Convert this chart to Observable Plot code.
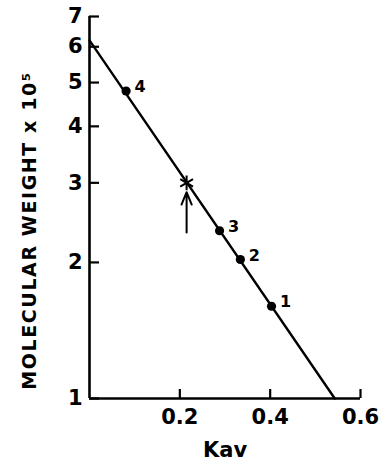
<!DOCTYPE html>
<html>
<head>
<meta charset="utf-8">
<script src="https://cdn.jsdelivr.net/npm/d3@7"></script>
<script src="https://cdn.jsdelivr.net/npm/@observablehq/plot@0.6"></script>
<style>
  html, body { margin: 0; padding: 0; background: #fff; }
  svg { display: block; }
</style>
</head>
<body>
<div id="chart"></div>
<script>
// Standards (numbered points)
const labels = ["1", "2", "3", "4"];
const kav = [0.403, 0.334, 0.288, 0.081];
const mw = [1.60, 2.03, 2.35, 4.79];

// Unknown (star) with arrow
const unknownKav = [0.215];
const unknownMW = [3.0];
const arrowFrom = [2.33];
const arrowTo = [2.86];

// Fitted line endpoints
const lineKav = [0, 0.543];
const lineMW = [6.2, 1];

// Ticks
const xTicks = [0.2, 0.4, 0.6];
const yTicks = [1, 2, 3, 4, 5, 6, 7];

const yTitle = "MOLECULAR WEIGHT x 10⁵";
const xTitle = "Kav";

const points = labels.map((l, i) => ({label: l, kav: kav[i], mw: mw[i]}));
const unknown = unknownKav.map((k, i) => ({kav: k, mw: unknownMW[i], from: arrowFrom[i], to: arrowTo[i]}));
const line = lineKav.map((k, i) => ({kav: k, mw: lineMW[i]}));

const font = "DejaVu Sans";

const chart = Plot.plot({
  width: 382,
  height: 463,
  marginLeft: 89,
  marginRight: 22,
  marginTop: 16,
  marginBottom: 65,
  style: {fontFamily: font, fontWeight: "bold", color: "#000", background: "#fff"},
  x: {domain: [0, 0.6]},
  y: {type: "log", domain: [1, 7]},
  marks: [
    // inward ticks
    Plot.axisY(yTicks, {tickSize: -10, text: null, strokeWidth: 2.2, label: null}),
    Plot.axisX(xTicks, {tickSize: -9, text: null, strokeWidth: 2.2, label: null}),
    // tick labels
    Plot.axisY(yTicks, {tickSize: 0, tickPadding: 7, fontSize: 21, fontWeight: "bold", tickFormat: d => String(d), label: null}),
    Plot.axisX(xTicks, {tickSize: 0, tickPadding: 11, fontSize: 21, fontWeight: "bold", tickFormat: d => d.toFixed(1), label: null}),
    // axis lines
    Plot.ruleX([0], {strokeWidth: 2.6}),
    Plot.ruleY([1], {strokeWidth: 2.6}),
    // fitted line
    Plot.line(line, {x: "kav", y: "mw", strokeWidth: 2.4}),
    // standards
    Plot.dot(points, {x: "kav", y: "mw", r: 4.6, fill: "#000"}),
    Plot.text(points, {x: "kav", y: "mw", text: "label", dx: 14, dy: -4, fontSize: 16, fontWeight: "bold", textAnchor: "middle"}),
    // unknown
    Plot.dot(unknown, {x: "kav", y: "mw", symbol: "asterisk", r: 7, stroke: "#000", strokeWidth: 2}),
    Plot.arrow(unknown, {x: "kav", y1: "from", y2: "to", strokeWidth: 2, headLength: 10, headAngle: 45}),
    // axis titles
    Plot.text([xTitle], {frameAnchor: "bottom", dy: 52, lineAnchor: "middle", fontSize: 21, fontWeight: "bold"}),
    Plot.text([yTitle], {frameAnchor: "left", dx: -60, dy: 23, rotate: -90, textAnchor: "middle", lineAnchor: "middle", fontSize: 19, fontWeight: "bold"})
  ]
});
// widen the letter spacing of the rotated y title
d3.select(chart).selectAll("text").filter(function() { return this.textContent === yTitle; })
  .style("letter-spacing", "1.6px");
document.getElementById("chart").appendChild(chart);
</script>
</body>
</html>
